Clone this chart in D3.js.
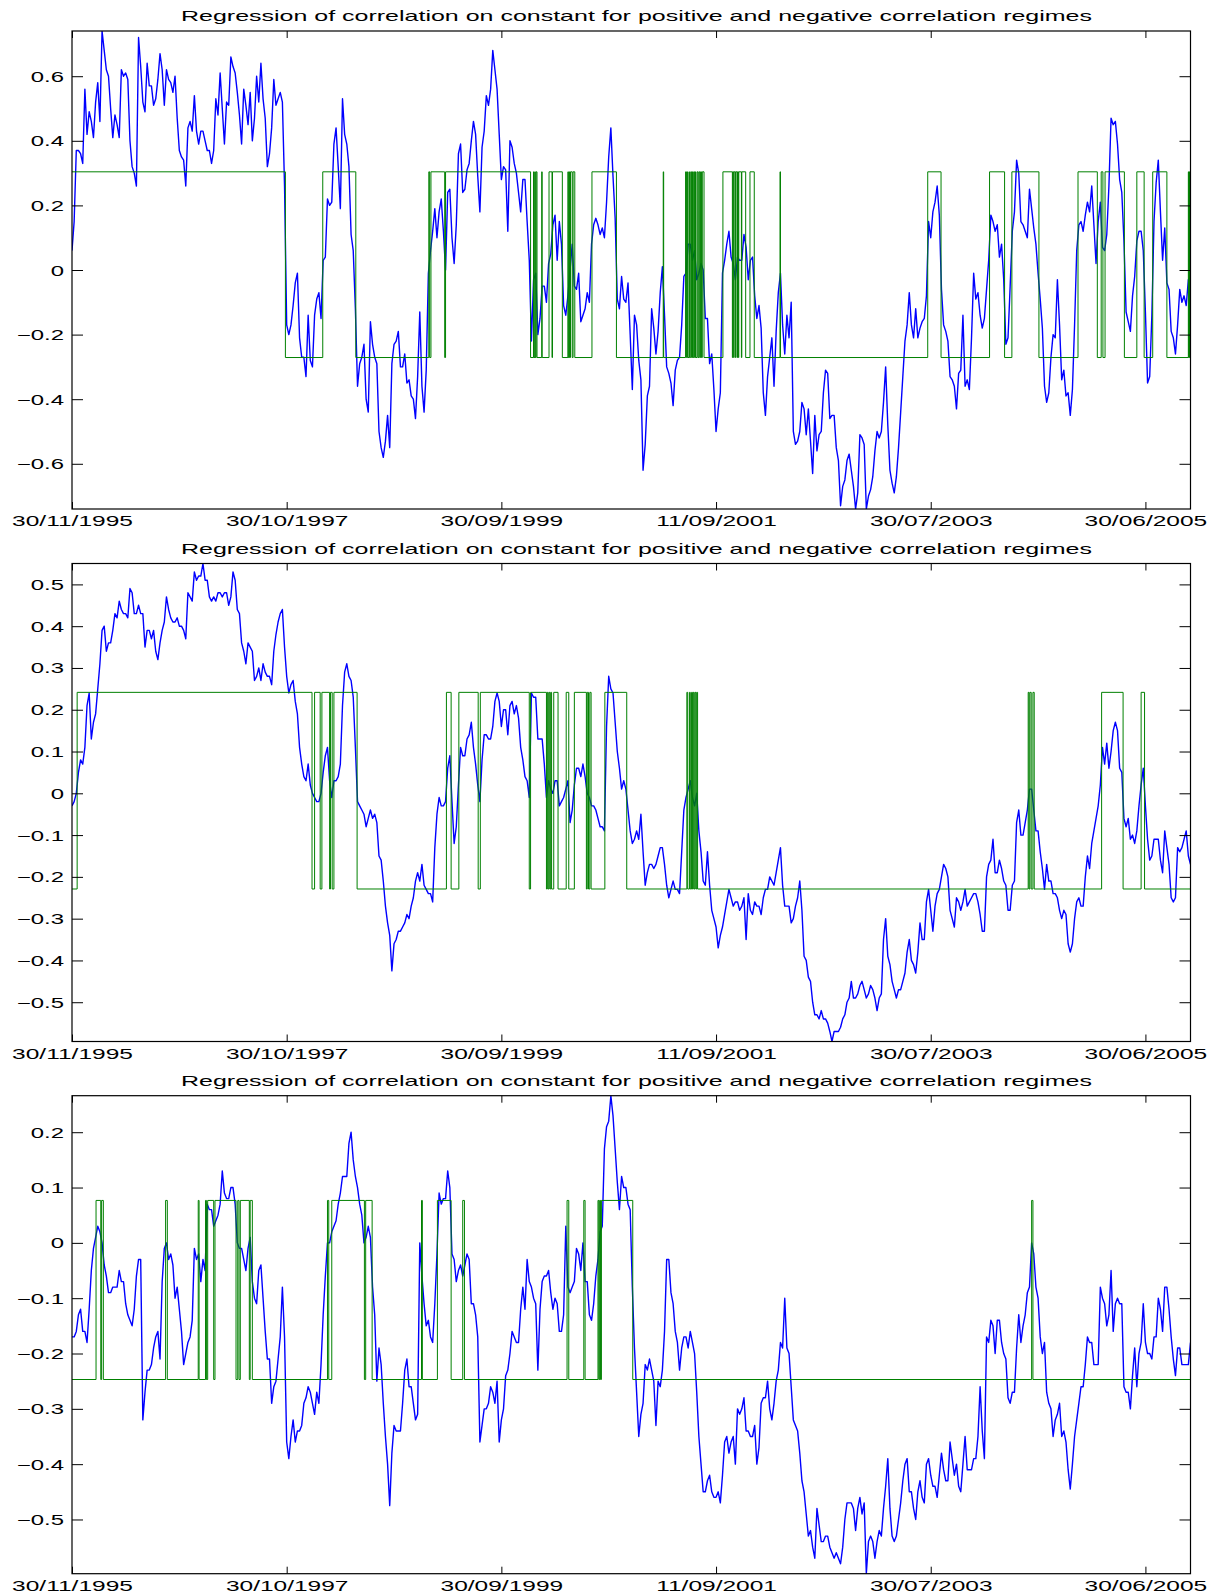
<!DOCTYPE html>
<html>
<head>
<meta charset="utf-8">
<script src="https://cdn.jsdelivr.net/npm/d3@7"></script>
<style>
  body { margin: 0; background: #fff; }
  svg { display: block; }
</style>
</head>
<body>
<svg id="chart" width="1210" height="1596"></svg>
<script>
// Observations between consecutive stored correlation samples
const STEP = 5;

const dateTicks = [0, 500, 1000, 1500, 2000, 2500];
const dateLabels = ["30/11/1995", "30/10/1997", "30/09/1999", "11/09/2001", "30/07/2003", "30/06/2005"];
const chartTitle = "Regression of correlation on constant for positive and negative correlation regimes";

// ---- Panel A ----
const corrA = [
0.06,0.15,0.37,0.37,0.36,0.33,0.56,0.42,0.49,0.46,
0.41,0.52,0.58,0.46,0.74,0.68,0.62,0.60,0.50,0.41,
0.48,0.45,0.41,0.62,0.60,0.61,0.59,0.40,0.32,0.30,
0.26,0.72,0.63,0.52,0.49,0.64,0.57,0.57,0.51,0.53,
0.59,0.67,0.62,0.51,0.62,0.59,0.58,0.55,0.60,0.47,
0.37,0.35,0.34,0.26,0.44,0.46,0.43,0.54,0.43,0.39,
0.43,0.43,0.40,0.37,0.37,0.33,0.37,0.53,0.48,0.61,
0.50,0.39,0.52,0.51,0.66,0.63,0.61,0.55,0.48,0.39,
0.56,0.51,0.45,0.55,0.40,0.47,0.60,0.52,0.64,0.53,
0.47,0.32,0.36,0.44,0.59,0.51,0.53,0.55,0.52,0.26,
-0.17,-0.20,-0.17,-0.11,-0.04,-0.01,-0.21,-0.27,-0.27,-0.33,
-0.14,-0.28,-0.30,-0.14,-0.09,-0.07,-0.15,0.03,0.04,0.22,
0.20,0.21,0.39,0.44,0.32,0.19,0.53,0.42,0.39,0.32,
0.11,0.06,-0.12,-0.36,-0.29,-0.27,-0.23,-0.40,-0.44,-0.16,
-0.23,-0.27,-0.29,-0.50,-0.55,-0.58,-0.53,-0.45,-0.55,-0.29,
-0.23,-0.22,-0.19,-0.30,-0.30,-0.26,-0.35,-0.34,-0.39,-0.40,
-0.46,-0.33,-0.13,-0.36,-0.44,-0.31,-0.01,0.06,0.12,0.19,
0.10,0.18,
0.22,0.12,0.00,0.24,0.25,0.10,0.02,0.14,0.36,0.39,
0.24,0.25,0.31,0.33,0.40,0.46,0.42,0.29,0.18,0.38,
0.43,0.54,0.51,0.56,0.68,0.62,0.56,0.42,0.28,0.32,
0.31,0.12,0.40,0.38,0.33,0.30,0.24,0.18,0.28,0.28,
0.15,0.03,-0.22,-0.03,-0.01,-0.20,-0.15,-0.05,-0.05,-0.10,
0.02,0.05,0.14,0.17,0.03,0.15,0.08,-0.11,-0.14,-0.08,
0.00,0.08,-0.05,-0.06,-0.01,-0.16,-0.14,-0.12,-0.07,-0.10,
0.08,0.14,0.16,0.14,0.11,0.13,0.10,0.21,0.35,0.44,
0.29,0.16,-0.09,-0.12,-0.02,-0.09,-0.10,-0.04,-0.20,-0.37,
-0.14,-0.17,-0.28,-0.34,-0.62,-0.54,-0.39,-0.36,-0.12,-0.18,
-0.26,-0.19,-0.07,0.01,-0.14,-0.30,-0.32,-0.35,-0.42,-0.31,
-0.28,-0.27,-0.17,-0.02,-0.01,0.08,0.08,0.03,0.06,-0.03,
-0.01,0.02,0.00,-0.15,-0.15,-0.29,-0.26,-0.37,-0.50,-0.43,
-0.38,-0.01,0.03,0.08,0.12,0.04,0.02,-0.03,0.04,0.03,
0.03,0.11,0.07,-0.03,0.03,0.04,-0.08,-0.15,-0.11,-0.18,
-0.38,-0.45,-0.33,-0.27,-0.21,-0.36,-0.19,-0.07,-0.01,-0.17,
-0.26,-0.14,-0.21,-0.10,-0.50,-0.54,-0.53,-0.50,-0.41,-0.43,
-0.51,
-0.43,-0.53,-0.63,-0.45,-0.56,-0.51,-0.50,-0.38,-0.31,-0.32,
-0.46,-0.45,-0.45,-0.55,-0.59,-0.73,-0.67,-0.65,-0.59,-0.57,
-0.62,-0.67,-0.74,-0.69,-0.51,-0.52,-0.54,-0.74,-0.70,-0.68,
-0.64,-0.56,-0.50,-0.52,-0.50,-0.41,-0.30,-0.48,-0.62,-0.66,
-0.69,-0.64,-0.55,-0.44,-0.33,-0.22,-0.17,-0.07,-0.17,-0.21,
-0.12,-0.21,-0.18,-0.16,-0.15,-0.08,0.15,0.10,0.18,0.21,
0.26,0.17,-0.06,-0.17,-0.19,-0.22,-0.33,-0.34,-0.36,-0.43,
-0.32,-0.31,-0.14,-0.36,-0.34,-0.37,-0.21,-0.01,-0.09,-0.07,
-0.14,-0.18,-0.15,-0.06,0.03,0.17,0.15,0.12,0.14,0.04,
0.08,-0.03,-0.23,-0.21,-0.05,0.12,0.18,0.34,0.30,0.15,
0.14,0.12,0.10,0.25,0.19,0.13,0.08,-0.01,-0.09,-0.18,
-0.36,-0.41,-0.38,-0.27,-0.20,-0.21,-0.03,-0.17,-0.34,-0.31,
-0.39,-0.38,-0.45,-0.37,-0.17,0.06,0.14,0.15,0.12,0.17,
0.21,0.18,0.26,0.14,0.02,0.15,0.21,0.07,0.06,0.11,
0.26,0.47,0.45,0.46,0.39,0.28,0.24,0.09,-0.13,-0.16,
-0.19,-0.08,-0.02,0.09,0.12,0.12,0.06,-0.13,-0.35,-0.33,
-0.14,0.15,0.27,0.34,0.18,0.03,0.13,-0.04,-0.06,-0.19,
-0.21,-0.26,-0.17,-0.06,-0.10,-0.08,-0.11,-0.03,-0.02
];
const regimeLevelsA = [-0.271, 0.304];   // [negative regime, positive regime]
const regimeSwitchesA = [
[0,1],[497,0],[584,1],[661,0],[831,1],[833,0],[836,1],[868,0],[870,1],[1068,0],
[1075,1],[1076,0],[1078,1],[1079,0],[1081,1],[1083,0],[1094,1],[1095,0],[1111,1],[1118,0],
[1119,1],[1142,0],[1155,1],[1156,0],[1158,1],[1159,0],[1161,1],[1165,0],[1167,1],[1171,0],
[1211,1],[1268,0],[1377,1],[1378,0],[1429,1],[1431,0],[1433,1],[1434,0],[1437,1],[1438,0],
[1441,1],[1443,0],[1445,1],[1446,0],[1448,1],[1450,0],[1452,1],[1453,0],[1456,1],[1458,0],
[1460,1],[1462,0],[1464,1],[1466,0],[1468,1],[1472,0],[1516,1],[1538,0],[1539,1],[1541,0],
[1542,1],[1545,0],[1546,1],[1549,0],[1550,1],[1552,0],[1553,1],[1559,0],[1560,1],[1569,0],
[1579,1],[1589,0],[1649,1],[1650,0],[1993,1],[2024,0],[2137,1],[2172,0],[2189,1],[2252,0],
[2343,1],[2388,0],[2397,1],[2401,0],[2406,1],[2451,0],[2480,1],[2497,0],[2517,1],[2550,0],
[2600,1],[2601,0],[2602,1],[2603,0],[2604,1]
];
const yTicksA = [-0.6, -0.4, -0.2, 0, 0.2, 0.4, 0.6];

// ---- Panel B ----
const corrB = [
-0.03,-0.02,0.00,0.05,0.08,0.07,0.11,0.21,0.24,0.13,
0.17,0.19,0.25,0.31,0.39,0.40,0.34,0.36,0.36,0.39,
0.43,0.42,0.46,0.44,0.43,0.43,0.42,0.49,0.48,0.43,
0.43,0.45,0.43,0.43,0.35,0.39,0.39,0.37,0.39,0.34,
0.32,0.36,0.39,0.41,0.47,0.44,0.42,0.41,0.41,0.42,
0.40,0.40,0.39,0.37,0.48,0.47,0.46,0.53,0.51,0.52,
0.52,0.55,0.51,0.51,0.47,0.46,0.47,0.46,0.48,0.48,
0.47,0.48,0.48,0.45,0.47,0.53,0.51,0.44,0.43,0.36,
0.34,0.31,0.36,0.35,0.34,0.27,0.28,0.30,0.27,0.31,
0.29,0.28,0.28,0.26,0.34,0.38,0.41,0.43,0.44,0.35,
0.28,0.24,0.26,0.27,0.22,0.19,0.11,0.07,0.04,0.03,
0.07,0.02,0.00,-0.01,-0.02,-0.02,0.00,0.05,0.09,0.11,
0.03,-0.01,0.03,0.03,0.04,0.07,0.21,0.29,0.31,0.28,
0.27,0.23,0.11,-0.02,-0.03,-0.04,-0.05,-0.08,-0.06,-0.04,
-0.06,-0.05,-0.07,-0.15,-0.16,-0.21,-0.27,-0.31,-0.34,-0.425,
-0.36,-0.35,-0.33,-0.33,-0.32,-0.31,-0.29,-0.30,-0.27,-0.25,
-0.21,-0.19,-0.21,-0.17,-0.22,-0.23,-0.24,-0.24,-0.26,-0.13,
-0.05,-0.01,
-0.03,-0.03,-0.02,0.06,0.09,-0.02,-0.12,-0.08,0.02,0.11,
0.09,0.09,0.13,0.14,0.17,0.11,0.07,0.02,-0.02,0.08,
0.14,0.14,0.13,0.13,0.16,0.22,0.24,0.22,0.16,0.20,
0.20,0.14,0.21,0.22,0.19,0.21,0.18,0.11,0.08,0.04,
0.03,-0.01,0.24,0.23,0.23,0.13,0.13,0.13,0.07,-0.01,
0.03,0.01,0.00,0.03,0.03,-0.03,-0.02,-0.01,0.01,0.03,
-0.07,-0.04,0.02,0.06,0.06,0.04,0.07,0.04,0.00,-0.01,
-0.03,-0.03,-0.04,-0.06,-0.08,-0.08,-0.09,0.16,0.28,0.25,
0.24,0.17,0.10,0.06,0.01,0.03,0.01,-0.04,-0.09,-0.12,
-0.11,-0.09,-0.11,-0.05,-0.14,-0.22,-0.19,-0.17,-0.17,-0.18,
-0.17,-0.15,-0.13,-0.13,-0.17,-0.22,-0.25,-0.23,-0.21,-0.23,
-0.23,-0.24,-0.14,-0.04,-0.01,0.01,0.03,-0.01,-0.03,0.00,
-0.09,-0.14,-0.21,-0.22,-0.14,-0.22,-0.28,-0.30,-0.32,-0.37,
-0.34,-0.32,-0.29,-0.26,-0.23,-0.25,-0.27,-0.26,-0.26,-0.28,
-0.27,-0.25,-0.35,-0.24,-0.28,-0.29,-0.26,-0.27,-0.27,-0.29,
-0.25,-0.23,-0.23,-0.20,-0.21,-0.22,-0.19,-0.16,-0.13,-0.22,
-0.27,-0.27,-0.27,-0.31,-0.30,-0.27,-0.25,-0.21,-0.28,-0.39,
-0.40,
-0.44,-0.45,-0.50,-0.53,-0.53,-0.54,-0.52,-0.54,-0.54,-0.55,
-0.57,-0.594,-0.57,-0.57,-0.57,-0.56,-0.54,-0.53,-0.50,-0.49,
-0.45,-0.49,-0.49,-0.48,-0.46,-0.45,-0.47,-0.49,-0.48,-0.46,
-0.47,-0.49,-0.52,-0.49,-0.48,-0.35,-0.30,-0.39,-0.41,-0.45,
-0.47,-0.49,-0.47,-0.47,-0.45,-0.43,-0.38,-0.35,-0.40,-0.41,
-0.43,-0.38,-0.31,-0.35,-0.35,-0.26,-0.23,-0.28,-0.33,-0.27,
-0.24,-0.23,-0.20,-0.17,-0.18,-0.20,-0.28,-0.30,-0.32,-0.25,
-0.26,-0.28,-0.26,-0.23,-0.27,-0.26,-0.25,-0.24,-0.24,-0.26,
-0.29,-0.33,-0.33,-0.20,-0.17,-0.16,-0.11,-0.19,-0.19,-0.16,
-0.18,-0.21,-0.22,-0.28,-0.28,-0.22,-0.21,-0.07,-0.04,-0.10,
-0.10,-0.07,-0.04,0.01,0.01,-0.04,-0.09,-0.09,-0.14,-0.18,
-0.23,-0.17,-0.21,-0.21,-0.24,-0.24,-0.25,-0.28,-0.30,-0.28,
-0.29,-0.36,-0.38,-0.36,-0.30,-0.26,-0.25,-0.27,-0.27,-0.20,
-0.15,-0.18,-0.12,-0.09,-0.06,-0.03,0.02,0.11,0.07,0.12,
0.06,0.10,0.15,0.17,0.15,0.06,0.05,-0.06,-0.08,-0.06,
-0.11,-0.10,-0.12,-0.09,-0.03,0.02,0.06,-0.03,-0.11,-0.16,
-0.15,-0.11,-0.11,-0.11,-0.16,-0.19,-0.09,-0.13,-0.17,-0.25,
-0.26,-0.25,-0.13,-0.14,-0.13,-0.11,-0.09,-0.15,-0.17
];
const regimeLevelsB = [-0.229, 0.2416];
const regimeSwitchesB = [
[0,0],[12,1],[559,0],[565,1],[578,0],[582,1],[600,0],[602,1],[606,0],[610,1],
[664,0],[872,1],[883,0],[901,1],[946,0],[951,1],[1065,0],[1068,1],[1105,0],[1107,1],
[1109,0],[1111,1],[1113,0],[1115,1],[1117,0],[1122,1],[1132,0],[1151,1],[1157,0],[1170,1],
[1198,0],[1200,1],[1203,0],[1206,1],[1209,0],[1241,1],[1292,0],[1432,1],[1434,0],[1438,1],
[1440,0],[1443,1],[1445,0],[1447,1],[1449,0],[1451,1],[1453,0],[1455,1],[1457,0],[2227,1],
[2229,0],[2231,1],[2234,0],[2238,1],[2241,0],[2398,1],[2448,0],[2490,1],[2498,0]
];
const yTicksB = [-0.5, -0.4, -0.3, -0.2, -0.1, 0, 0.1, 0.2, 0.3, 0.4, 0.5];

// ---- Panel C ----
const corrC = [
-0.17,-0.17,-0.16,-0.13,-0.12,-0.16,-0.16,-0.18,-0.12,-0.05,
-0.01,0.01,0.03,0.02,0.00,-0.04,-0.06,-0.09,-0.09,-0.08,
-0.08,-0.08,-0.05,-0.07,-0.07,-0.11,-0.13,-0.14,-0.15,-0.12,
-0.06,-0.03,-0.03,-0.32,-0.27,-0.23,-0.23,-0.22,-0.19,-0.17,
-0.16,-0.21,-0.07,-0.01,0.00,-0.03,-0.02,-0.04,-0.10,-0.08,
-0.12,-0.16,-0.22,-0.20,-0.18,-0.17,-0.14,-0.01,-0.03,-0.02,
-0.07,-0.03,-0.05,0.07,0.06,0.06,0.03,0.04,0.05,0.07,
0.13,0.09,0.08,0.08,0.10,0.10,0.07,0.00,-0.01,-0.01,
-0.03,-0.05,-0.01,0.01,-0.07,-0.10,-0.11,-0.05,-0.04,-0.10,
-0.16,-0.21,-0.21,-0.29,-0.26,-0.25,-0.21,-0.17,-0.08,-0.17,
-0.36,-0.39,-0.35,-0.32,-0.36,-0.34,-0.34,-0.33,-0.29,-0.28,
-0.26,-0.27,-0.29,-0.31,-0.27,-0.29,-0.22,-0.13,-0.06,0.00,
0.00,0.02,0.03,0.04,0.07,0.09,0.12,0.12,0.12,0.18,
0.20,0.15,0.12,0.10,0.07,0.05,0.00,0.01,0.03,0.01,
-0.08,-0.13,-0.25,-0.19,-0.22,-0.29,-0.35,-0.40,-0.475,-0.38,
-0.33,-0.34,-0.34,-0.34,-0.29,-0.23,-0.21,-0.26,-0.26,-0.29,
-0.32,-0.31,0.00,-0.06,-0.11,-0.15,-0.14,-0.17,-0.18,-0.11,
-0.02,0.09,
0.07,0.08,0.08,0.13,0.10,-0.02,-0.03,-0.07,-0.05,-0.04,
-0.06,-0.04,-0.02,-0.03,-0.11,-0.11,-0.13,-0.17,-0.36,-0.33,
-0.30,-0.30,-0.29,-0.26,-0.27,-0.29,-0.25,-0.36,-0.32,-0.30,
-0.24,-0.23,-0.20,-0.16,-0.17,-0.18,-0.18,-0.12,-0.08,-0.12,
-0.03,-0.07,-0.08,-0.10,-0.11,-0.23,-0.12,-0.07,-0.06,-0.06,
-0.05,-0.09,-0.12,-0.10,-0.11,-0.16,-0.16,-0.13,0.03,-0.08,
-0.09,-0.08,-0.07,-0.01,-0.02,-0.05,0.00,-0.07,-0.07,-0.13,
-0.14,-0.11,-0.06,-0.03,0.02,0.03,0.17,0.21,0.22,0.266,
0.23,0.17,0.11,0.06,0.12,0.10,0.10,0.07,0.06,-0.08,
-0.19,-0.27,-0.35,-0.31,-0.29,-0.22,-0.23,-0.21,-0.23,-0.25,
-0.33,-0.25,-0.26,-0.23,-0.16,-0.03,-0.03,-0.09,-0.11,-0.16,
-0.18,-0.23,-0.19,-0.17,-0.17,-0.19,-0.16,-0.18,-0.20,-0.27,
-0.35,-0.40,-0.45,-0.45,-0.43,-0.42,-0.45,-0.46,-0.46,-0.45,
-0.47,-0.42,-0.36,-0.35,-0.38,-0.36,-0.35,-0.40,-0.30,-0.31,
-0.30,-0.28,-0.34,-0.34,-0.35,-0.35,-0.33,-0.40,-0.37,-0.29,
-0.28,-0.28,-0.25,-0.30,-0.32,-0.29,-0.25,-0.23,-0.18,-0.19,
-0.10,-0.19,-0.20,-0.26,-0.32,-0.33,-0.34,-0.38,-0.43,-0.45,
-0.49,
-0.53,-0.52,-0.55,-0.57,-0.48,-0.51,-0.54,-0.54,-0.53,-0.53,
-0.55,-0.56,-0.57,-0.56,-0.57,-0.58,-0.55,-0.50,-0.47,-0.47,
-0.47,-0.48,-0.52,-0.48,-0.46,-0.49,-0.47,-0.598,-0.54,-0.53,
-0.54,-0.57,-0.54,-0.52,-0.53,-0.48,-0.44,-0.39,-0.48,-0.53,
-0.54,-0.53,-0.50,-0.47,-0.43,-0.40,-0.39,-0.45,-0.45,-0.48,
-0.50,-0.45,-0.43,-0.46,-0.47,-0.40,-0.39,-0.42,-0.44,-0.44,
-0.46,-0.42,-0.38,-0.41,-0.43,-0.43,-0.36,-0.39,-0.42,-0.40,
-0.44,-0.45,-0.40,-0.35,-0.41,-0.41,-0.41,-0.39,-0.39,-0.35,
-0.26,-0.34,-0.39,-0.17,-0.18,-0.14,-0.15,-0.20,-0.14,-0.14,
-0.18,-0.20,-0.21,-0.28,-0.29,-0.27,-0.27,-0.19,-0.13,-0.18,
-0.15,-0.13,-0.09,-0.08,0.00,-0.02,-0.08,-0.10,-0.17,-0.20,
-0.18,-0.27,-0.29,-0.30,-0.35,-0.32,-0.31,-0.29,-0.35,-0.34,
-0.36,-0.41,-0.445,-0.40,-0.35,-0.32,-0.29,-0.26,-0.26,-0.22,
-0.17,-0.18,-0.18,-0.22,-0.22,-0.22,-0.08,-0.10,-0.11,-0.15,
-0.13,-0.05,-0.16,-0.11,-0.10,-0.11,-0.11,-0.26,-0.27,-0.27,
-0.30,-0.24,-0.19,-0.26,-0.20,-0.18,-0.11,-0.18,-0.20,-0.20,
-0.21,-0.17,-0.17,-0.10,-0.12,-0.16,-0.08,-0.08,-0.12,-0.17,
-0.21,-0.24,-0.19,-0.19,-0.22,-0.22,-0.22,-0.22,-0.18
];
const regimeLevelsC = [-0.247, 0.0767];
const regimeSwitchesC = [
[0,0],[56,1],[67,0],[69,1],[73,0],[218,1],[222,0],[294,1],[296,0],[311,1],
[313,0],[316,1],[330,0],[333,1],[382,0],[386,1],[389,0],[392,1],[413,0],[415,1],
[420,0],[595,1],[598,0],[605,1],[681,0],[684,1],[699,0],[814,1],[816,0],[851,1],
[883,0],[910,1],[914,0],[1153,1],[1157,0],[1192,1],[1195,0],[1225,1],[1227,0],[1229,1],
[1231,0],[1233,1],[1306,0],[2235,1],[2238,0]
];
const yTicksC = [-0.5, -0.4, -0.3, -0.2, -0.1, 0, 0.1, 0.2];

// ---- Layout ----
const FONT = "'Liberation Sans', Arial, Helvetica, sans-serif";
const FONT_SIZE = 14.5;
const PLOT_LEFT = 72, PLOT_RIGHT = 1190.5, PLOT_H = 478;
const PANEL_TOPS = [31, 563.5, 1095.7];
const TICK_SX = 1.65, DATE_SX = 1.69;   // wide lettering of the axis labels

const panels = [
  { values: corrA, levels: regimeLevelsA, switches: regimeSwitchesA, yTicks: yTicksA },
  { values: corrB, levels: regimeLevelsB, switches: regimeSwitchesB, yTicks: yTicksB },
  { values: corrC, levels: regimeLevelsC, switches: regimeSwitchesC, yTicks: yTicksC }
];

const svg = d3.select("#chart");
const fmtY = v => (v === 0 ? "0" : d3.format(".1f")(v));

panels.forEach((p, i) => {
  const top = PANEL_TOPS[i];
  const bottom = top + PLOT_H;
  const xMax = (p.values.length - 1) * STEP;

  const x = d3.scaleLinear().domain([0, xMax]).range([PLOT_LEFT, PLOT_RIGHT]);
  const y = d3.scaleLinear()
    .domain(d3.extent(p.values.concat(p.levels)))
    .range([bottom, top]);

  const g = svg.append("g").attr("class", "panel");

  const clipId = "plot-clip-" + i;
  g.append("clipPath").attr("id", clipId)
    .append("rect")
    .attr("x", PLOT_LEFT).attr("y", top)
    .attr("width", PLOT_RIGHT - PLOT_LEFT).attr("height", PLOT_H);

  const plot = g.append("g").attr("clip-path", `url(#${clipId})`);

  // rolling correlation
  plot.append("path")
    .datum(p.values)
    .attr("fill", "none")
    .attr("stroke", "#0000ff")
    .attr("stroke-width", 1.4)
    .attr("stroke-linejoin", "round")
    .attr("d", d3.line().x((d, j) => x(j * STEP)).y(d => y(d)));

  // regime constants as a step function
  const steps = p.switches.map(([t, s]) => [t, p.levels[s]]);
  steps.push([xMax, steps[steps.length - 1][1]]);
  plot.append("path")
    .datum(steps)
    .attr("fill", "none")
    .attr("stroke", "#008000")
    .attr("stroke-width", 1)
    .attr("d", d3.line().curve(d3.curveStepAfter).x(d => x(d[0])).y(d => y(d[1])));

  // bottom axis with date labels
  const axB = g.append("g")
    .attr("transform", `translate(0,${bottom})`)
    .call(d3.axisBottom(x).tickValues(dateTicks)
      .tickFormat((d, k) => dateLabels[k])
      .tickSizeInner(-7).tickSizeOuter(0));
  axB.select(".domain").remove();
  axB.selectAll("text")
    .attr("y", 17.5).attr("dy", null)
    .attr("transform", `scale(${DATE_SX},1)`)
    .attr("font-family", FONT).attr("font-size", FONT_SIZE).attr("fill", "#000");

  // top ticks
  const axT = g.append("g")
    .attr("transform", `translate(0,${top})`)
    .call(d3.axisTop(x).tickValues(dateTicks).tickFormat("")
      .tickSizeInner(-7).tickSizeOuter(0));
  axT.select(".domain").remove();

  // left axis with values
  const axL = g.append("g")
    .attr("transform", `translate(${PLOT_LEFT},0)`)
    .call(d3.axisLeft(y).tickValues(p.yTicks).tickFormat(fmtY)
      .tickSizeInner(-11).tickSizeOuter(0));
  axL.select(".domain").remove();
  axL.selectAll("text")
    .attr("x", -8 / TICK_SX).attr("y", 5).attr("dy", null)
    .attr("transform", `scale(${TICK_SX},1)`)
    .attr("font-family", FONT).attr("font-size", FONT_SIZE).attr("fill", "#000");

  // right ticks
  const axR = g.append("g")
    .attr("transform", `translate(${PLOT_RIGHT},0)`)
    .call(d3.axisRight(y).tickValues(p.yTicks).tickFormat("")
      .tickSizeInner(-11).tickSizeOuter(0));
  axR.select(".domain").remove();

  // frame
  g.append("rect")
    .attr("x", PLOT_LEFT).attr("y", top)
    .attr("width", PLOT_RIGHT - PLOT_LEFT).attr("height", PLOT_H)
    .attr("fill", "none").attr("stroke", "#000").attr("stroke-width", 1.2);

  // title
  g.append("text")
    .attr("x", 181).attr("y", top - 10)
    .attr("textLength", 911).attr("lengthAdjust", "spacingAndGlyphs")
    .attr("font-family", FONT).attr("font-size", FONT_SIZE).attr("fill", "#000")
    .text(chartTitle);
});
</script>
</body>
</html>
